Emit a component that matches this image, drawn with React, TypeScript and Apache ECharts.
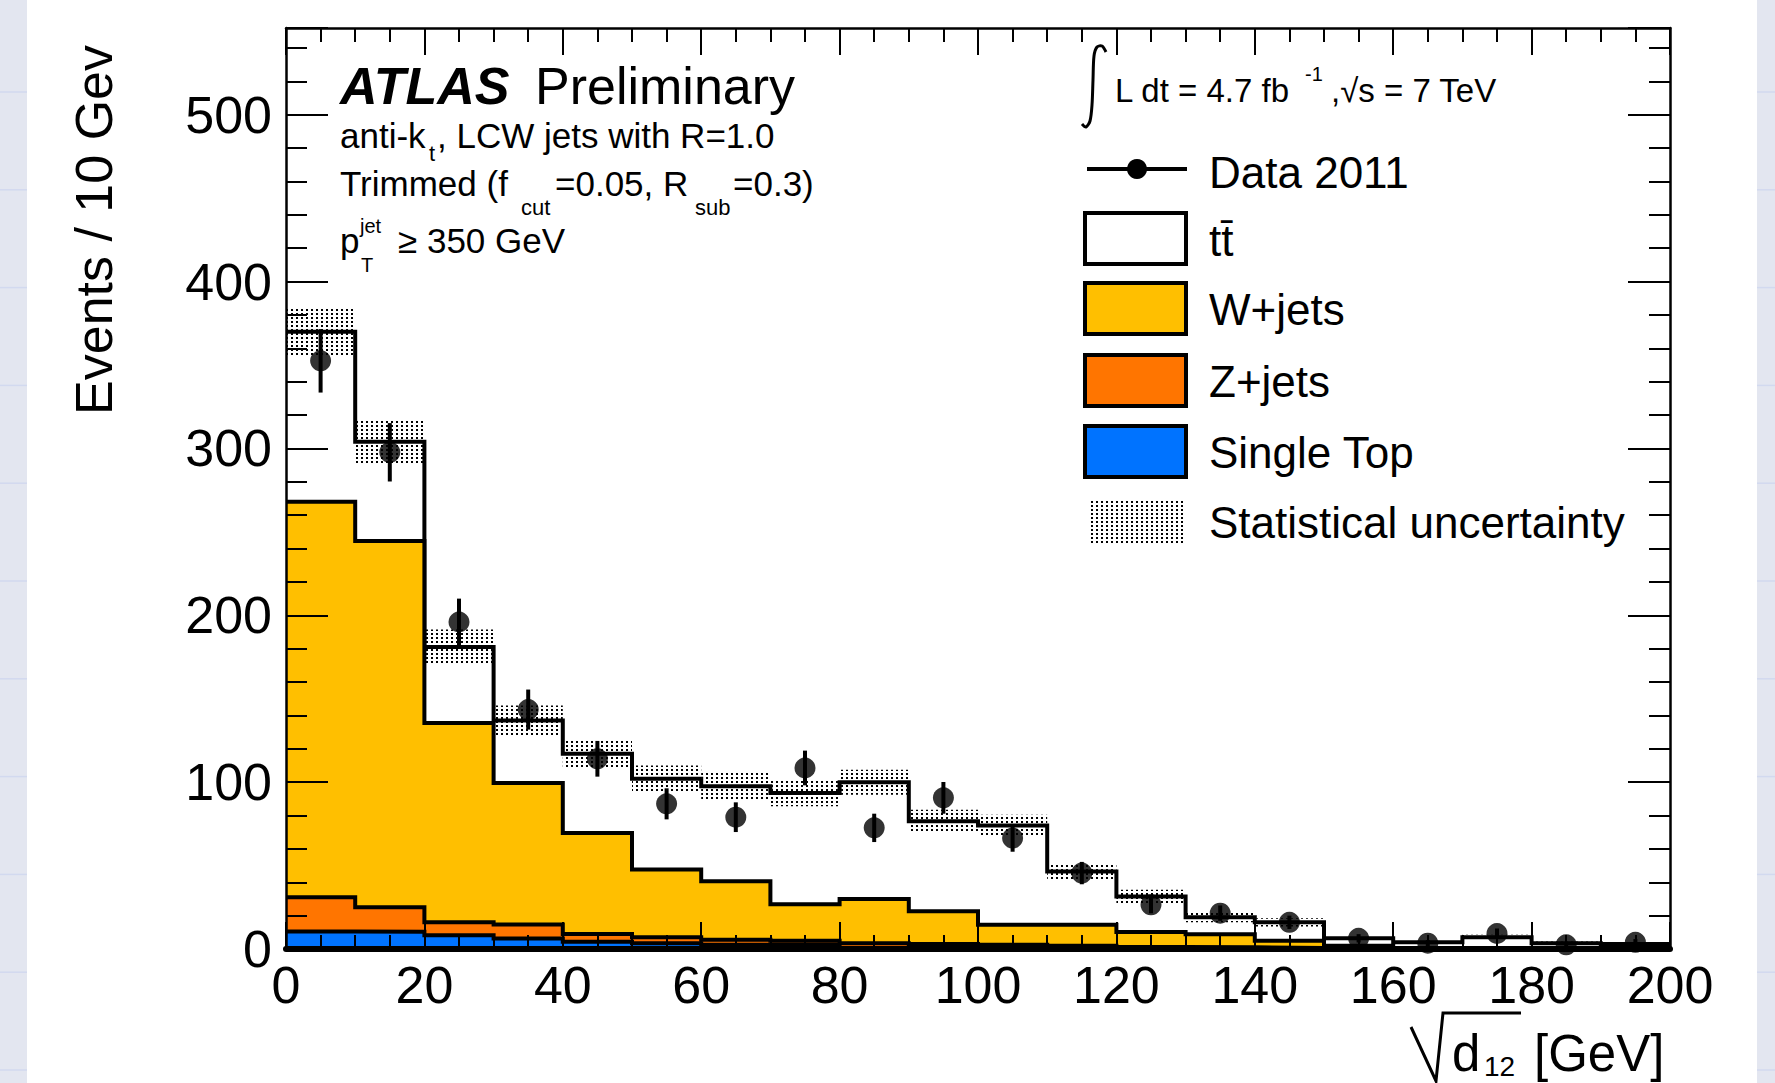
import React, { useEffect, useRef } from "react";
import * as echarts from "echarts";

// ---- data ----
const BIN_LOW = [0, 10, 20, 30, 40, 50, 60, 70, 80, 90, 100, 110, 120, 130, 140, 150, 160, 170, 180, 190];
const BIN_WIDTH = 10;
const SINGLE_TOP = [10.5, 10.3, 8.3, 6.3, 4.4, 3.5, 2.5, 2.5, 0.4, 0.4, 0.3, 0.3, 0.2, 0.2, 0.1, 0.1, 0, 0, 0, 0];
const Z_JETS = [20.5, 14.7, 7.7, 8.4, 4.6, 3.5, 3, 2.5, 3.1, 2.6, 2.2, 1.7, 1.0, 0.8, 0.5, 0.3, 0.2, 0.1, 0.1, 0.1];
const W_JETS = [237, 219.5, 119.5, 84.8, 60.5, 40.6, 35.1, 21.8, 26.5, 19.6, 12.1, 12.6, 9.0, 7.8, 4.4, 1.6, 0.3, 0.2, 0.2, 0.1];
const TTBAR = [102, 59.5, 45.5, 37.5, 47.5, 54.4, 56.9, 66.7, 70, 53.9, 59.4, 31.9, 21.3, 10.2, 11, 4.5, 3.5, 6.7, 3.2, 2.8];
const DATA_2011 = [352.5, 297.7, 196, 143.5, 114, 87, 79, 108.5, 72.6, 90.6, 66.5, 45.5, 26.5, 21.5, 16, 6.4, 3.5, 9.3, 2.5, 4];
const DATA_ERR = [19, 17.5, 14, 12, 10.7, 9.3, 8.9, 10.4, 8.5, 9.5, 8.2, 6.7, 5.1, 4.6, 4, 2.5, 1.9, 3, 1.6, 2];
const STAT_UNC = [14, 13, 10.5, 9, 8, 8, 8.5, 8, 7.5, 7, 6.5, 4.8, 4, 3, 2.5, 1.5, 1.2, 1.5, 1, 1];
const X_MIN = 0;
const X_MAX = 200;
const Y_MIN = 0;
const Y_MAX = 552;

const FONT = "'Liberation Sans', Arial, Helvetica, sans-serif";
const COL_W = "#ffbf00";
const COL_Z = "#ff7500";
const COL_ST = "#0073ff";

function cumulative(...arrs: number[][]) {
  return BIN_LOW.map((_, i) => arrs.reduce((s, a) => s + a[i], 0));
}
function stepData(vals: number[]) {
  const pts = BIN_LOW.map((x, i) => [x, vals[i]]);
  pts.push([BIN_LOW[BIN_LOW.length - 1] + BIN_WIDTH, vals[vals.length - 1]]);
  return pts;
}

export default function App() {
  const ref = useRef<HTMLDivElement>(null);
  useEffect(() => {
    document.body.style.margin = "0";
    const el = ref.current!;
    const chart = echarts.init(el, null, { renderer: "svg" });

    const cv = document.createElement("canvas");
    cv.width = 5;
    cv.height = 4;
    const ctx = cv.getContext("2d")!;
    ctx.fillStyle = "#000";
    ctx.fillRect(1, 1, 2, 2);
    const stipple: any = { image: cv, repeat: "repeat", imageWidth: 5, imageHeight: 4 };

    const stTop = cumulative(SINGLE_TOP);
    const zTop = cumulative(SINGLE_TOP, Z_JETS);
    const wTop = cumulative(SINGLE_TOP, Z_JETS, W_JETS);
    const total = cumulative(SINGLE_TOP, Z_JETS, W_JETS, TTBAR);

    const histSeries = (vals: number[], fill: string, z: number) => ({
      type: "line",
      data: stepData(vals),
      step: "end",
      symbol: "none",
      silent: true,
      z,
      lineStyle: { color: "#000", width: 4, join: "miter", cap: "butt" },
      areaStyle: { color: fill, opacity: 1 },
    });

    const txt = (text: string, x: number, y: number, size: number, extra: any = {}) => ({
      type: "text",
      x,
      y,
      z: 50,
      silent: true,
      style: {
        text,
        fontSize: size,
        fontFamily: FONT,
        fill: "#000",
        align: "left",
        verticalAlign: "middle",
        textAlign: "left",
        textVerticalAlign: "middle",
        ...extra,
      },
    });

    const stripLines: any[] = [];
    for (let k = 0; k < 11; k++) {
      const y = 92 + k * 97.8;
      stripLines.push({ type: "line", z: 1, silent: true, shape: { x1: 0, y1: y, x2: 27, y2: y }, style: { stroke: "#d2d9ef", lineWidth: 1.5 } });
      stripLines.push({ type: "line", z: 1, silent: true, shape: { x1: 1757, y1: y, x2: 1775, y2: y }, style: { stroke: "#d2d9ef", lineWidth: 1.5 } });
    }

    const tickStyle = { color: "#000", width: 2 };
    const xAxisBase = (pos: string, labels: boolean, lineWidth: number) => ({
      type: "value",
      position: pos,
      min: X_MIN,
      max: X_MAX,
      interval: 20,
      z: 10,
      axisLine: { show: true, onZero: false, lineStyle: { color: "#000", width: lineWidth } },
      axisTick: { show: true, inside: true, length: 27, lineStyle: tickStyle },
      minorTick: { show: true, splitNumber: 4, length: 14, lineStyle: tickStyle },
      splitLine: { show: false },
      minorSplitLine: { show: false },
      axisLabel: { show: labels, fontSize: 52, fontFamily: FONT, color: "#000", margin: 10 },
    });
    const yAxisBase = (pos: string, interval: number, len: number, labels: boolean, line: boolean) => ({
      type: "value",
      position: pos,
      min: Y_MIN,
      max: Y_MAX,
      interval,
      z: 10,
      axisLine: { show: line, onZero: false, lineStyle: { color: "#000", width: 2.5 } },
      axisTick: { show: true, inside: true, length: len, lineStyle: tickStyle },
      splitLine: { show: false },
      axisLabel: {
        show: labels,
        fontSize: 52,
        fontFamily: FONT,
        color: "#000",
        margin: 14,
        formatter: (v: number) => (v % 100 === 0 ? String(v) : ""),
      },
    });

    const option: any = {
      animation: false,
      backgroundColor: "#fff",
      grid: { left: 286, top: 28, width: 1384, height: 921, containLabel: false },
      xAxis: [xAxisBase("bottom", true, 6), xAxisBase("top", false, 2.5)],
      yAxis: [
        yAxisBase("left", 100, 42, true, true),
        yAxisBase("left", 20, 21, false, false),
        yAxisBase("right", 100, 42, false, true),
        yAxisBase("right", 20, 21, false, false),
      ],
      series: [
        histSeries(total, "#ffffff", 2),
        histSeries(wTop, COL_W, 3),
        histSeries(zTop, COL_Z, 4),
        histSeries(stTop, COL_ST, 5),
        {
          type: "custom",
          z: 6,
          silent: true,
          data: BIN_LOW.map((x, i) => [x, x + BIN_WIDTH, total[i] - STAT_UNC[i], total[i] + STAT_UNC[i]]),
          encode: { x: [0, 1], y: [2, 3] },
          renderItem: (_p: any, api: any) => {
            const a = api.coord([api.value(0), api.value(3)]);
            const b = api.coord([api.value(1), api.value(2)]);
            return {
              type: "rect",
              shape: { x: a[0], y: a[1], width: b[0] - a[0], height: b[1] - a[1] },
              style: { fill: stipple, stroke: null },
            };
          },
        },
        {
          type: "custom",
          z: 7,
          silent: true,
          data: BIN_LOW.map((x, i) => [x + BIN_WIDTH / 2, DATA_2011[i] - DATA_ERR[i], DATA_2011[i] + DATA_ERR[i]]),
          encode: { x: 0, y: [1, 2] },
          renderItem: (_p: any, api: any) => {
            const a = api.coord([api.value(0), api.value(1)]);
            const b = api.coord([api.value(0), api.value(2)]);
            return {
              type: "line",
              shape: { x1: a[0], y1: a[1], x2: b[0], y2: b[1] },
              style: { stroke: "#000", lineWidth: 4 },
            };
          },
        },
        {
          type: "scatter",
          z: 8,
          silent: true,
          symbol: "circle",
          symbolSize: 21,
          itemStyle: { color: "#000" },
          data: BIN_LOW.map((x, i) => [x + BIN_WIDTH / 2, DATA_2011[i]]),
        },
      ],
      graphic: {
        elements: [
          { type: "rect", z: 0, silent: true, shape: { x: 0, y: 0, width: 27, height: 1083 }, style: { fill: "#e3e6f0" } },
          { type: "rect", z: 0, silent: true, shape: { x: 1757, y: 0, width: 18, height: 1083 }, style: { fill: "#e3e6f0" } },
          ...stripLines,
          // y axis title
          {
            type: "text",
            x: 94,
            y: 45,
            rotation: Math.PI / 2,
            z: 50,
            silent: true,
            style: {
              text: "Events / 10 Gev",
              fontSize: 52,
              fontFamily: FONT,
              fill: "#000",
              align: "right",
              verticalAlign: "middle",
              textAlign: "right",
              textVerticalAlign: "middle",
            },
          },
          // x axis title
          {
            type: "polyline",
            z: 50,
            silent: true,
            shape: { points: [[1411, 1027], [1436, 1081], [1443, 1013], [1521, 1013]] },
            style: { stroke: "#000", lineWidth: 3, fill: null },
          },
          txt("d", 1452, 1053, 51),
          txt("12", 1484, 1066, 28),
          txt("[GeV]", 1534, 1053, 51),
          // ATLAS labels
          txt("ATLAS", 340, 86, 52, { fontWeight: "bold", fontStyle: "italic" }),
          txt("Preliminary", 535, 86, 52),
          txt("anti-k", 340, 135, 35),
          txt("t", 429, 153, 22),
          txt(", LCW jets with R=1.0", 437, 135, 35),
          txt("Trimmed (f", 340, 183, 35),
          txt("cut", 521, 207, 22),
          txt("=0.05, R", 555, 183, 35),
          txt("sub", 695, 207, 22),
          txt("=0.3)", 733, 183, 35),
          txt("p", 340, 240, 35),
          txt("jet", 360, 226, 20),
          txt("T", 361, 265, 20),
          txt("≥ 350 GeV", 398, 240, 35),
          // luminosity
          {
            type: "polyline",
            z: 50,
            silent: true,
            shape: {
              points: [[1106, 52], [1102, 46], [1097, 47], [1094, 56], [1093, 80], [1092, 105], [1090, 121], [1086, 127], [1082, 124]],
              smooth: 0.3,
            },
            style: { stroke: "#000", lineWidth: 3, fill: null },
          },
          txt("L dt = 4.7 fb", 1115, 90, 33),
          txt("-1", 1305, 74, 20),
          txt(",√s = 7 TeV", 1331, 90, 33),
          // legend
          { type: "line", z: 50, silent: true, shape: { x1: 1087, y1: 169, x2: 1187, y2: 169 }, style: { stroke: "#000", lineWidth: 4 } },
          { type: "circle", z: 51, silent: true, shape: { cx: 1137, cy: 169, r: 10 }, style: { fill: "#000" } },
          txt("Data 2011", 1209, 172, 44),
          { type: "rect", z: 50, silent: true, shape: { x: 1085, y: 213, width: 101, height: 51 }, style: { fill: "#fff", stroke: "#000", lineWidth: 4 } },
          txt("tt̄", 1209, 240, 44),
          { type: "rect", z: 50, silent: true, shape: { x: 1085, y: 283, width: 101, height: 51 }, style: { fill: COL_W, stroke: "#000", lineWidth: 4 } },
          txt("W+jets", 1209, 309, 44),
          { type: "rect", z: 50, silent: true, shape: { x: 1085, y: 355, width: 101, height: 51 }, style: { fill: COL_Z, stroke: "#000", lineWidth: 4 } },
          txt("Z+jets", 1209, 381, 44),
          { type: "rect", z: 50, silent: true, shape: { x: 1085, y: 426, width: 101, height: 51 }, style: { fill: COL_ST, stroke: "#000", lineWidth: 4 } },
          txt("Single Top", 1209, 452, 44),
          { type: "rect", z: 50, silent: true, shape: { x: 1091, y: 499, width: 92, height: 46 }, style: { fill: stipple } },
          txt("Statistical uncertainty", 1209, 522, 44),
        ],
      },
    };

    chart.setOption(option);
    return () => chart.dispose();
  }, []);
  return <div ref={ref} style={{ position: "absolute", left: 0, top: 0, width: 1775, height: 1083 }} />;
}
